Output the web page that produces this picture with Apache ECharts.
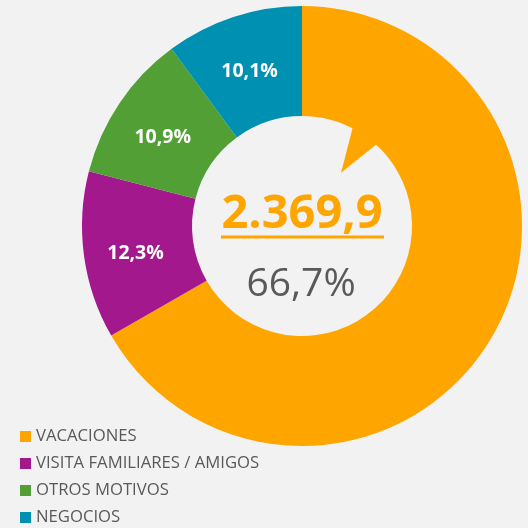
<!DOCTYPE html>
<html>
<head>
<meta charset="utf-8">
<script src="https://cdn.jsdelivr.net/npm/echarts@6/dist/echarts.min.js"></script>
<style>html,body{margin:0;padding:0;background:#f2f2f2;}#c{width:528px;height:528px;}</style>
</head>
<body>
<div id="c"></div>
<script>
var categories = ['VACACIONES', 'VISITA FAMILIARES / AMIGOS', 'OTROS MOTIVOS', 'NEGOCIOS'];
var shares = [66.7, 12.3, 10.9, 10.1];
var colors = ['#FFA500', '#A3198D', '#52A035', '#0090B2'];
var centerValue = '2.369,9';
var centerShare = '66,7%';

var CX = 302, CY = 226, R0 = 110, R1 = 220;
var FONT = '"Open Sans", sans-serif';

function fmt(v) { return v.toFixed(1).replace('.', ',') + '%'; }
function pt(angleDeg, r) {
  var a = angleDeg * Math.PI / 180;
  return [CX + r * Math.sin(a), CY - r * Math.cos(a)];
}

var data = categories.map(function (c, i) {
  var d = { name: c, value: shares[i], itemStyle: { color: colors[i] } };
  if (i === 0) d.label = { show: false };
  return d;
});

var chart = echarts.init(document.getElementById('c'), null, { renderer: 'canvas' });
chart.setOption({
  backgroundColor: '#f2f2f2',
  animation: false,
  color: colors,
  legend: {
    orient: 'vertical',
    left: 20,
    top: 428,
    padding: 0,
    height: 100,
    itemWidth: 11,
    itemHeight: 11,
    itemGap: 10,
    icon: 'rect',
    textStyle: { fontFamily: FONT, fontSize: 16.7, color: '#595959', lineHeight: 17 },
    data: categories
  },
  series: [{
    type: 'pie',
    center: [CX, CY],
    radius: [R0, R1],
    startAngle: 90,
    clockwise: true,
    avoidLabelOverlap: false,
    label: {
      show: true,
      position: 'inside',
      offset: [0, 5],
      formatter: function (p) { return fmt(p.value); },
      color: '#ffffff',
      fontFamily: FONT,
      fontWeight: 'bold',
      fontSize: 19.5
    },
    labelLine: { show: false },
    emphasis: { disabled: true },
    data: data
  }],
  graphic: [
    {
      type: 'polygon',
      shape: { points: [pt(27, 113), pt(36.3, 66), pt(42.5, 113)] },
      style: { fill: colors[0] },
      z: 10
    },
    {
      type: 'text',
      x: CX, y: CY - 11,
      style: {
        text: centerValue, fill: colors[0], font: 'bold 47px ' + FONT,
        textAlign: 'center', textVerticalAlign: 'middle'
      },
      z: 10
    },
    {
      type: 'line',
      shape: { x1: CX - 81, y1: CY + 11, x2: CX + 82, y2: CY + 11 },
      style: { stroke: colors[0], lineWidth: 3 },
      z: 10
    },
    {
      type: 'text',
      x: CX - 1, y: CY + 59,
      style: {
        text: centerShare, fill: '#595959', font: '39px ' + FONT,
        textAlign: 'center', textVerticalAlign: 'middle'
      },
      z: 10
    }
  ]
});
</script>
</body>
</html>
